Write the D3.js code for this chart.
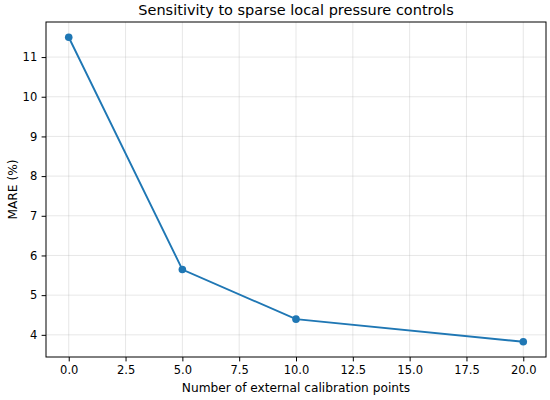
<!DOCTYPE html>
<html>
<head>
<meta charset="utf-8">
<script src="https://cdn.jsdelivr.net/npm/d3@7"></script>
<style>
  html, body { margin: 0; padding: 0; background: #fff; }
  svg { display: block; font-family: "DejaVu Sans", sans-serif; }
</style>
</head>
<body>
<div id="chart"></div>
<script>
// Calibration-point sensitivity line chart

const CALIB_POINTS = [0, 5, 10, 20];
const MARE_PCT     = [11.5, 5.645, 4.395, 3.825];
const X_TICKS      = [0, 2.5, 5, 7.5, 10, 12.5, 15, 17.5, 20];
const Y_TICKS      = [4, 5, 6, 7, 8, 9, 10, 11];

const W = 550, H = 400;
const M = { top: 22, right: 4, bottom: 43, left: 46 };
const iw = W - M.left - M.right;
const ih = H - M.top - M.bottom;

const svg = d3.select('#chart').append('svg')
  .attr('width', W)
  .attr('height', H);

// matplotlib-style 5% margins around the data range
const xPad = (d3.max(CALIB_POINTS) - d3.min(CALIB_POINTS)) * 0.05;
const yPad = (d3.max(MARE_PCT) - d3.min(MARE_PCT)) * 0.05;

const x = d3.scaleLinear()
  .domain([d3.min(CALIB_POINTS) - xPad, d3.max(CALIB_POINTS) + xPad])
  .range([0, iw]);
const y = d3.scaleLinear()
  .domain([d3.min(MARE_PCT) - yPad, d3.max(MARE_PCT) + yPad])
  .range([ih, 0]);

const g = svg.append('g').attr('transform', `translate(${M.left},${M.top})`);

// grid
g.append('g')
  .selectAll('line.vgrid')
  .data(X_TICKS)
  .join('line')
  .attr('x1', d => x(d)).attr('x2', d => x(d))
  .attr('y1', 0).attr('y2', ih)
  .attr('stroke', '#b0b0b0').attr('stroke-opacity', 0.3).attr('stroke-width', 1);
g.append('g')
  .selectAll('line.hgrid')
  .data(Y_TICKS)
  .join('line')
  .attr('x1', 0).attr('x2', iw)
  .attr('y1', d => y(d)).attr('y2', d => y(d))
  .attr('stroke', '#b0b0b0').attr('stroke-opacity', 0.3).attr('stroke-width', 1);

// axes
const TICK = 4.4, PAD = 4.4;
const xAxis = g.append('g')
  .attr('transform', `translate(0,${ih})`)
  .call(d3.axisBottom(x).tickValues(X_TICKS).tickFormat(d3.format('.1f')).tickSizeOuter(0).tickSize(TICK).tickPadding(PAD));
const yAxis = g.append('g')
  .call(d3.axisLeft(y).tickValues(Y_TICKS).tickFormat(d3.format('d')).tickSizeOuter(0).tickSize(TICK).tickPadding(PAD));

[xAxis, yAxis].forEach(ax => {
  ax.select('.domain').remove();
  ax.selectAll('.tick line').attr('stroke', '#000').attr('stroke-width', 1);
  ax.selectAll('.tick text')
    .attr('fill', '#000')
    .style('font-size', '11.5px')
    .style('font-family', '"DejaVu Sans", sans-serif');
});

// frame
g.append('rect')
  .attr('width', iw).attr('height', ih)
  .attr('fill', 'none')
  .attr('stroke', '#000')
  .attr('stroke-width', 1);

// line + markers
const line = d3.line()
  .x((d, i) => x(CALIB_POINTS[i]))
  .y(d => y(d));

g.append('path')
  .datum(MARE_PCT)
  .attr('d', line)
  .attr('fill', 'none')
  .attr('stroke', '#1f77b4')
  .attr('stroke-width', 1.9);

g.selectAll('circle.pt')
  .data(MARE_PCT)
  .join('circle')
  .attr('class', 'pt')
  .attr('cx', (d, i) => x(CALIB_POINTS[i]))
  .attr('cy', d => y(d))
  .attr('r', 3.8)
  .attr('fill', '#1f77b4');

// labels
svg.append('text')
  .attr('x', M.left + iw / 2)
  .attr('y', 15)
  .attr('text-anchor', 'middle')
  .style('font-size', '14.5px')
  .text('Sensitivity to sparse local pressure controls');

svg.append('text')
  .attr('x', M.left + iw / 2)
  .attr('y', 392)
  .attr('text-anchor', 'middle')
  .style('font-size', '12.2px')
  .text('Number of external calibration points');

svg.append('text')
  .attr('transform', `translate(16.5,${M.top + ih / 2}) rotate(-90)`)
  .attr('text-anchor', 'middle')
  .style('font-size', '12.2px')
  .text('MARE (%)');
</script>
</body>
</html>
